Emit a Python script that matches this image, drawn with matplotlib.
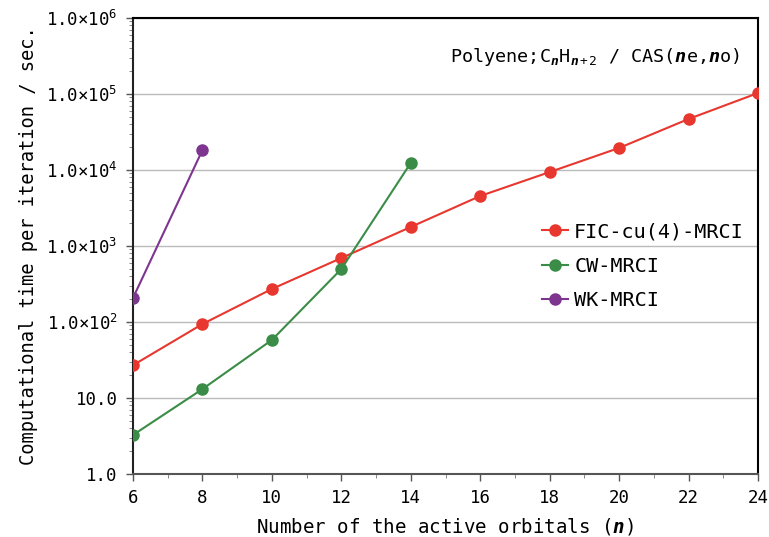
import matplotlib
matplotlib.use("Agg")
import matplotlib.pyplot as plt
from matplotlib.ticker import FixedLocator, LogLocator, NullFormatter, MultipleLocator

plt.rcParams['font.family'] = ['DejaVu Sans Mono']
plt.rcParams['mathtext.fontset'] = 'custom'
plt.rcParams['mathtext.rm'] = 'DejaVu Sans Mono'
plt.rcParams['mathtext.it'] = 'DejaVu Sans Mono:italic:bold'
plt.rcParams['mathtext.bf'] = 'DejaVu Sans Mono:bold'

fic_n = [6, 8, 10, 12, 14, 16, 18, 20, 22, 24]
fic_t = [27, 94, 272, 695, 1780, 4550, 9400, 19500, 46900, 103000]
cw_n = [6, 8, 10, 12, 14]
cw_t = [3.26, 13.1, 58, 498, 12400]
wk_n = [6, 8]
wk_t = [207, 18300]

y_ticks = [1, 10, 100, 1e3, 1e4, 1e5, 1e6]
y_labels = ['1.0', '10.0', r'1.0×10$^{2}$', r'1.0×10$^{3}$', r'1.0×10$^{4}$',
            r'1.0×10$^{5}$', r'1.0×10$^{6}$']
x_ticks = [6, 8, 10, 12, 14, 16, 18, 20, 22, 24]

fig = plt.figure(figsize=(7.69, 5.37), dpi=100)
ax = fig.add_axes([133/769, 1-474/537, (758-133)/769, (474-18)/537])

ax.plot(fic_n, fic_t, '-o', color='#e8372f', lw=1.5, ms=8, label='FIC-cu(4)-MRCI', zorder=3)
ax.plot(cw_n, cw_t, '-o', color='#3a8c46', lw=1.5, ms=8, label='CW-MRCI', zorder=3)
ax.plot(wk_n, wk_t, '-o', color='#7d3590', lw=1.5, ms=8, label='WK-MRCI', zorder=3)

ax.set_yscale('log')
ax.set_ylim(1, 1e6)
ax.set_xlim(6, 24)
ax.yaxis.set_major_locator(FixedLocator(y_ticks))
ax.set_yticklabels(y_labels)
ax.yaxis.set_minor_locator(LogLocator(base=10, subs=range(2, 10)))
ax.yaxis.set_minor_formatter(NullFormatter())
ax.set_xticks(x_ticks)
ax.xaxis.set_minor_locator(MultipleLocator(1))

ax.tick_params(axis='both', which='major', direction='out', length=5, width=1, labelsize=12.5, pad=6, color='#555555')
ax.tick_params(axis='both', which='minor', direction='out', length=3, width=0.7, color='#888888')
ax.grid(axis='y', which='major', color='#bbbbbb', lw=1)
ax.set_axisbelow(True)
for s in ax.spines.values():
    s.set_linewidth(1.5)
    s.set_color('black')
ax.spines['left'].set_color('#222222')
ax.spines['bottom'].set_color('#555555')

ax.set_xlabel(r'Number of the active orbitals ($\mathit{n}$)', fontsize=13.8, labelpad=6)
ax.set_ylabel('Computational time per iteration / sec.', fontsize=13.5, labelpad=6)

ax.text(0.971, 0.915, r'Polyene;C$_{\mathit{n}}$H$_{\mathit{n+2}}$ / CAS($\mathit{n}$e,$\mathit{n}$o)',
        transform=ax.transAxes, ha='right', va='center', fontsize=13.3)

leg = ax.legend(loc='center right', bbox_to_anchor=(1.0, 0.456), frameon=False, fontsize=14.5,
                handlelength=1.3, handletextpad=0.3, labelspacing=0.75, borderaxespad=0.3)

fig.savefig('out.png', dpi=100)
